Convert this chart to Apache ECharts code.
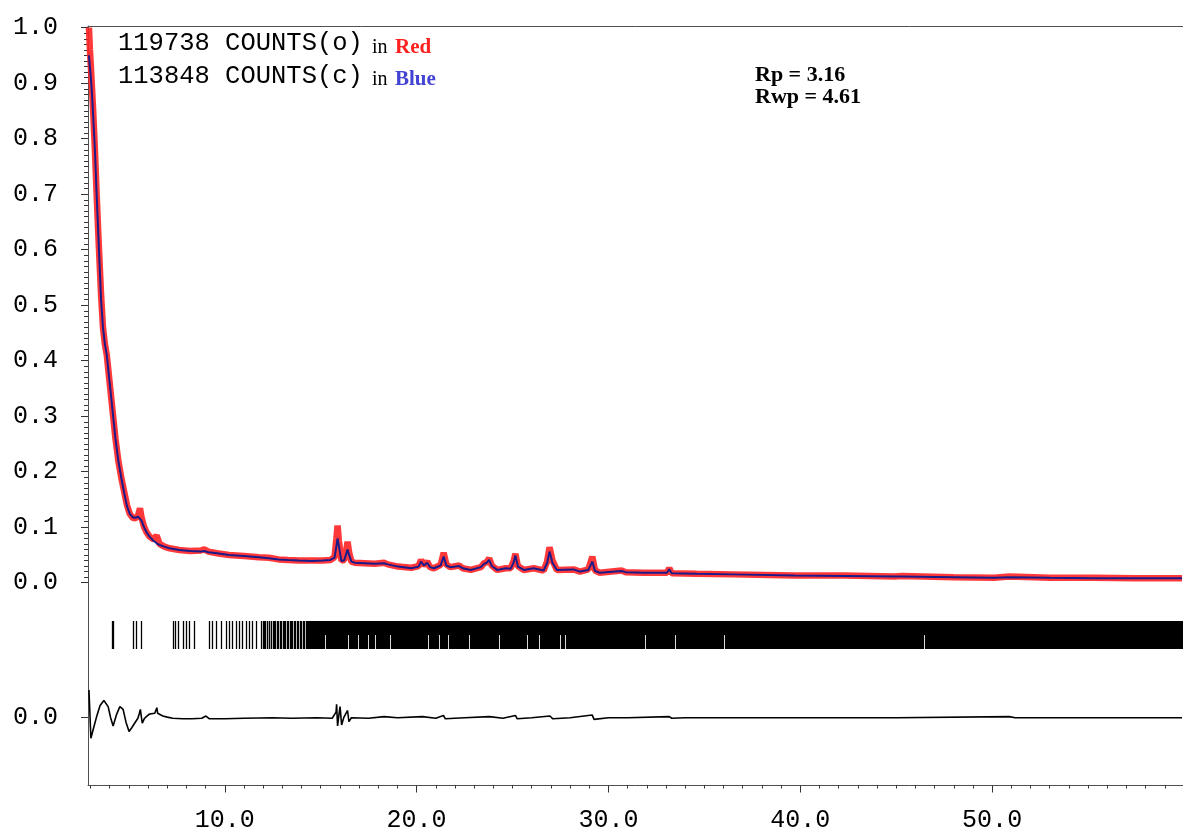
<!DOCTYPE html>
<html>
<head>
<meta charset="utf-8">
<title>Rietveld fit</title>
<script src="https://cdn.jsdelivr.net/npm/echarts@6/dist/echarts.min.js"></script>
<style>
  html, body { margin: 0; padding: 0; background: #fff; }
  #chart { width: 1183px; height: 834px; }
</style>
</head>
<body>
<div id="chart"></div>
<script>
// 2-theta positions of the profile points
const twoTheta = [
  2.92, 2.97, 3.02, 3.08, 3.14, 3.23, 3.32, 3.43, 3.55, 3.65, 3.75, 3.85, 4.00, 4.15, 4.30, 4.45,
  4.60, 4.75, 4.90, 5.05, 5.20, 5.35, 5.48, 5.58, 5.66, 5.78, 5.92, 6.08, 6.30, 6.45, 6.60, 6.85,
  7.12, 7.63, 8.20, 8.75, 8.93, 9.15, 9.60, 10.22, 11.00, 11.78, 12.30, 12.81, 13.30, 13.86, 14.52,
  15.10, 15.50, 15.72, 15.82, 15.88, 15.95, 16.08, 16.22, 16.33, 16.40, 16.48, 16.60, 16.78, 17.30,
  17.82, 18.30, 18.50, 19.03, 19.72, 20.10, 20.23, 20.38, 20.55, 20.70, 20.90, 21.25, 21.41, 21.55,
  21.75, 22.22, 22.40, 22.82, 23.35, 23.51, 23.65, 23.78, 23.92, 24.20, 24.64, 24.90, 25.05, 25.15,
  25.28, 25.59, 26.10, 26.62, 26.80, 26.93, 27.08, 27.31, 28.18, 28.52, 28.95, 29.16, 29.30, 29.55,
  30.68, 30.90, 31.80, 33.05, 33.17, 33.30, 34.60, 36.50, 39.70, 42.30, 44.90, 45.30, 48.00, 50.10,
  50.90, 53.00, 55.30, 57.50, 59.90
];

// observed counts (normalised)
const observed = [
  1.000, 0.960, 0.930, 0.890, 0.850, 0.780, 0.700, 0.610, 0.520, 0.460, 0.430, 0.410, 0.360, 0.310, 0.260, 0.220,
  0.190, 0.165, 0.140, 0.124, 0.117, 0.116, 0.121, 0.134, 0.118, 0.102, 0.091, 0.083, 0.078, 0.085, 0.070, 0.065,
  0.062, 0.059, 0.057, 0.058, 0.060, 0.056, 0.053, 0.050, 0.048, 0.046, 0.045, 0.042, 0.041, 0.040, 0.040,
  0.040, 0.041, 0.046, 0.080, 0.103, 0.075, 0.040, 0.041, 0.058, 0.074, 0.055, 0.038, 0.036, 0.035,
  0.034, 0.036, 0.033, 0.029, 0.027, 0.030, 0.041, 0.031, 0.038, 0.028, 0.026, 0.032, 0.054, 0.033,
  0.028, 0.031, 0.026, 0.023, 0.028, 0.035, 0.037, 0.044, 0.031, 0.023, 0.026, 0.026, 0.038, 0.052,
  0.030, 0.023, 0.026, 0.022, 0.038, 0.064, 0.040, 0.023, 0.024, 0.020, 0.024, 0.047, 0.022, 0.018,
  0.022, 0.019, 0.018, 0.018, 0.026, 0.017, 0.016, 0.015, 0.013, 0.013, 0.011, 0.012, 0.010, 0.009,
  0.011, 0.009, 0.009, 0.008, 0.008
];

// calculated counts (normalised)
const calculated = [
  0.950, 0.930, 0.910, 0.880, 0.840, 0.780, 0.700, 0.610, 0.510, 0.460, 0.430, 0.410, 0.360, 0.310, 0.260, 0.220,
  0.190, 0.163, 0.138, 0.124, 0.118, 0.117, 0.119, 0.122, 0.112, 0.101, 0.091, 0.083, 0.075, 0.071, 0.068, 0.065,
  0.062, 0.059, 0.057, 0.056, 0.057, 0.055, 0.053, 0.050, 0.048, 0.046, 0.044, 0.042, 0.041, 0.040, 0.039,
  0.040, 0.041, 0.045, 0.066, 0.080, 0.066, 0.039, 0.040, 0.052, 0.060, 0.050, 0.038, 0.036, 0.035,
  0.034, 0.035, 0.033, 0.029, 0.026, 0.029, 0.038, 0.031, 0.036, 0.028, 0.026, 0.031, 0.047, 0.031,
  0.028, 0.030, 0.026, 0.023, 0.028, 0.034, 0.036, 0.041, 0.030, 0.023, 0.026, 0.025, 0.036, 0.049,
  0.029, 0.023, 0.026, 0.022, 0.035, 0.056, 0.036, 0.023, 0.024, 0.020, 0.023, 0.038, 0.021, 0.018,
  0.021, 0.019, 0.018, 0.018, 0.024, 0.017, 0.016, 0.015, 0.013, 0.012, 0.011, 0.011, 0.010, 0.009,
  0.010, 0.009, 0.008, 0.008, 0.008
];

// difference curve (obs - calc): [2-theta, value]
const difference = [
  [2.92, 0.050], [3.02, -0.037], [3.15, -0.020], [3.32, 0.002], [3.50, 0.022], [3.70, 0.031], [3.92, 0.020],
  [4.05, 0.000], [4.18, -0.015], [4.35, 0.005], [4.53, 0.020], [4.70, 0.015], [4.85, -0.008], [5.01, -0.025],
  [5.15, -0.018], [5.30, -0.010], [5.47, -0.001], [5.55, 0.008], [5.60, 0.015], [5.65, 0.002], [5.70, -0.010],
  [5.80, -0.002], [5.91, 0.002], [6.05, 0.006], [6.17, 0.007], [6.35, 0.008], [6.43, 0.009], [6.46, 0.018],
  [6.50, 0.008], [6.77, 0.003], [7.00, 0.001], [7.29, -0.001], [7.80, -0.002], [8.30, -0.002], [8.80, -0.001],
  [9.02, 0.003], [9.20, -0.002], [10.0, -0.002], [11.0, -0.001], [12.5, 0.000], [13.5, -0.001], [14.8, 0.000],
  [15.6, -0.001], [15.80, 0.010], [15.83, 0.024], [15.88, -0.015], [15.95, 0.005], [16.01, 0.020], [16.09, -0.013],
  [16.20, 0.000], [16.40, 0.013], [16.47, -0.007], [16.60, 0.000], [17.5, -0.001], [18.3, 0.002], [19.0, 0.000],
  [20.3, 0.002], [21.0, -0.001], [21.4, 0.004], [21.5, -0.002], [22.5, 0.000], [23.8, 0.002], [24.5, -0.001],
  [25.15, 0.004], [25.25, -0.002], [26.0, 0.000], [26.95, 0.003], [27.1, -0.002], [28.0, 0.000], [29.15, 0.005],
  [29.25, -0.003], [30.0, 0.000], [31.0, 0.000], [33.17, 0.002], [33.3, -0.001], [34.0, 0.000], [40.0, 0.000],
  [45.0, 0.000], [50.9, 0.002], [51.0, -0.001], [51.2, 0.000], [59.9, 0.000]
];

// reflection positions (isolated tick marks)
const reflections = [
  4.10, 4.16, 5.22, 5.39, 5.65, 7.29, 7.41, 7.55, 7.80, 7.98, 8.15, 8.41, 9.19, 9.33, 9.53, 9.79,
  10.05, 10.22, 10.39, 10.57, 10.74, 10.91, 11.09, 11.26, 11.43, 11.61, 11.90, 11.98, 12.05, 12.12,
  12.20, 12.28, 12.33, 12.41, 12.50, 12.57, 12.63, 12.70, 12.78, 12.86, 12.93, 13.01, 13.09, 13.15,
  13.22, 13.30, 13.38, 13.46, 13.52, 13.60, 13.68, 13.75, 13.83, 13.90, 13.98, 14.06, 14.13, 14.21, 14.30
];
// ranges where reflections overlap into a continuous block
const reflectionBlocks = [[14.33, 59.95]];
// open spaces between overlapping reflections (lower part of the band)
const reflectionGaps = [
  15.23, 16.44, 16.92, 17.47, 17.82, 18.60, 20.58, 21.19, 21.62, 22.74, 24.29, 25.76, 26.36,
  27.48, 27.74, 31.88, 33.49, 36.02, 46.43
];

// axis ticks and labels
const xMajorTicks = [10, 20, 30, 40, 50];
const yMainTicks = [0, 0.1, 0.2, 0.3, 0.4, 0.5, 0.6, 0.7, 0.8, 0.9, 1.0];
const yDiffTicks = [0];

// the plot runs on past the right edge of the canvas
const X_MIN = 2.87, X_MAX = 59.95, RIGHT = -7;
const xMinorTicks = [];
for (let v = 3; v <= 59; v++) if (v % 10 !== 0) xMinorTicks.push(v);
const yDiffMinor = [];
for (let k = -5; k <= 6; k++) if (k !== 0) yDiffMinor.push(+(k * 0.01).toFixed(2));

const MONO = '"Liberation Mono", "DejaVu Sans Mono", monospace';
const SERIF = '"Liberation Serif", "DejaVu Serif", serif';
const AXIS_GREY = '#505050';

const chart = echarts.init(document.getElementById('chart'), null, { renderer: 'canvas' });

const hiddenX = (gridIndex) => ({
  type: 'value', gridIndex, min: X_MIN, max: X_MAX, show: false
});

const tickItem = (params, api) => {
  const x = Math.round(api.coord([api.value(0), 0])[0]) + 0.5;
  const yTop = api.coord([api.value(0), 1])[1];
  const yBot = api.coord([api.value(0), 0])[1];
  return {
    type: 'line',
    shape: { x1: x, y1: yTop, x2: x, y2: yBot },
    style: { stroke: '#000', lineWidth: 1.3 }
  };
};

const blockItem = (params, api) => {
  const p0 = api.coord([api.value(0), 1]);
  const p1 = api.coord([api.value(1), 0]);
  return {
    type: 'rect',
    shape: { x: Math.round(p0[0]), y: p0[1], width: p1[0] - p0[0], height: p1[1] - p0[1] },
    style: { fill: '#000' }
  };
};

const gapItem = (params, api) => {
  const x = Math.round(api.coord([api.value(0), 0])[0]) + 0.5;
  const yTop = api.coord([api.value(0), 0.5])[1];
  const yBot = api.coord([api.value(0), 0])[1];
  return {
    type: 'line',
    shape: { x1: x, y1: yTop, x2: x, y2: yBot },
    style: { stroke: '#d8d8d8', lineWidth: 1 }
  };
};

const option = {
  animation: false,
  backgroundColor: '#fff',
  grid: [
    // 0: observed / calculated profile
    { left: 88, right: RIGHT, top: 27.7, height: 555 },
    // 1: reflection markers
    { left: 88, right: RIGHT, top: 621, height: 28 },
    // 2: difference curve (same vertical scale as profile)
    { left: 88, right: RIGHT, top: 662.2, height: 111 },
    // 3: outer frame (left, top, bottom lines) with the 2-theta axis
    { left: 88, right: RIGHT, top: 26, bottom: 48.5 }
  ],
  xAxis: [
    hiddenX(0),
    hiddenX(1),
    hiddenX(2),
    {
      type: 'value', gridIndex: 3, min: X_MIN, max: X_MAX, position: 'bottom',
      axisLine: { show: true, lineStyle: { color: AXIS_GREY } },
      axisTick: { show: true, customValues: xMajorTicks, length: 7, lineStyle: { color: '#333' } },
      axisLabel: {
        show: true, customValues: xMajorTicks, margin: 22,
        formatter: (v) => v.toFixed(1),
        fontFamily: MONO, fontSize: 25, color: '#000'
      },
      splitLine: { show: false }
    },
    {
      type: 'value', gridIndex: 3, min: X_MIN, max: X_MAX, position: 'bottom',
      axisLine: { show: false },
      axisTick: { show: true, customValues: xMinorTicks, length: 3, lineStyle: { color: '#333' } },
      axisLabel: { show: false },
      splitLine: { show: false }
    },
    {
      type: 'value', gridIndex: 3, min: X_MIN, max: X_MAX, position: 'top',
      axisLine: { show: true, lineStyle: { color: AXIS_GREY } },
      axisTick: { show: false }, axisLabel: { show: false }, splitLine: { show: false }
    }
  ],
  yAxis: [
    {
      type: 'value', gridIndex: 0, min: 0, max: 1, interval: 0.1,
      axisLine: { show: false },
      axisTick: { show: true, length: 7, lineStyle: { color: '#333' } },
      minorTick: { show: true, splitNumber: 10, length: 4, lineStyle: { color: '#333' } },
      axisLabel: {
        margin: 30, fontFamily: MONO, fontSize: 25, color: '#000',
        formatter: (v) => {
          const t = yMainTicks.find((m) => Math.abs(m - v) < 1e-6);
          return t === undefined ? '' : t.toFixed(1);
        }
      },
      splitLine: { show: false }
    },
    { type: 'value', gridIndex: 1, min: 0, max: 1, show: false },
    {
      type: 'value', gridIndex: 2, min: -0.1, max: 0.1,
      axisLine: { show: false },
      axisTick: { show: true, customValues: yDiffTicks, length: 7, lineStyle: { color: '#333' } },
      axisLabel: {
        customValues: yDiffTicks, margin: 30, fontFamily: MONO, fontSize: 25, color: '#000',
        formatter: (v) => v.toFixed(1)
      },
      splitLine: { show: false }
    },
    {
      type: 'value', gridIndex: 2, min: -0.1, max: 0.1,
      axisLine: { show: false },
      axisTick: { show: true, customValues: yDiffMinor, length: 4, lineStyle: { color: '#333' } },
      axisLabel: { show: false },
      splitLine: { show: false }
    },
    {
      type: 'value', gridIndex: 3, min: 0, max: 1, position: 'left',
      axisLine: { show: true, lineStyle: { color: AXIS_GREY } },
      axisTick: { show: false }, axisLabel: { show: false }, splitLine: { show: false }
    }
  ],
  series: [
    {
      name: 'observed', type: 'line', xAxisIndex: 0, yAxisIndex: 0,
      data: twoTheta.map((x, i) => [x, observed[i]]),
      showSymbol: false, clip: false,
      lineStyle: { color: '#ff2424', width: 6.5, opacity: 0.9 },
      itemStyle: { color: '#ff2424' }
    },
    {
      name: 'calculated', type: 'line', xAxisIndex: 0, yAxisIndex: 0,
      data: twoTheta.map((x, i) => [x, calculated[i]]),
      showSymbol: false, clip: false,
      lineStyle: { color: '#1a1a8a', width: 2 },
      itemStyle: { color: '#1a1a8a' }
    },
    {
      name: 'reflection blocks', type: 'custom', xAxisIndex: 1, yAxisIndex: 1,
      data: reflectionBlocks, renderItem: blockItem, clip: true
    },
    {
      name: 'reflections', type: 'custom', xAxisIndex: 1, yAxisIndex: 1,
      data: reflections.map((v) => [v]), renderItem: tickItem
    },
    {
      name: 'gaps', type: 'custom', xAxisIndex: 1, yAxisIndex: 1,
      data: reflectionGaps.map((v) => [v]), renderItem: gapItem
    },
    {
      name: 'difference', type: 'line', xAxisIndex: 2, yAxisIndex: 2,
      data: difference, showSymbol: false, clip: false,
      lineStyle: { color: '#000', width: 1.6 },
      itemStyle: { color: '#000' }
    }
  ],
  graphic: [
    { type: 'text', x: 118, y: 43, style: { text: '119738 COUNTS(o)', font: '25.5px ' + MONO, fill: '#000', verticalAlign: 'middle' } },
    { type: 'text', x: 372, y: 47.5, style: { text: 'in', font: '20px ' + SERIF, fill: '#000', verticalAlign: 'middle' } },
    { type: 'text', x: 395, y: 47.5, style: { text: 'Red', font: 'bold 21px ' + SERIF, fill: '#ff2020', verticalAlign: 'middle' } },
    { type: 'text', x: 118, y: 76, style: { text: '113848 COUNTS(c)', font: '25.5px ' + MONO, fill: '#000', verticalAlign: 'middle' } },
    { type: 'text', x: 372, y: 79.5, style: { text: 'in', font: '20px ' + SERIF, fill: '#000', verticalAlign: 'middle' } },
    { type: 'text', x: 395, y: 79.5, style: { text: 'Blue', font: 'bold 21px ' + SERIF, fill: '#4444d4', verticalAlign: 'middle' } },
    { type: 'text', x: 755, y: 75, style: { text: 'Rp = 3.16', font: 'bold 22px ' + SERIF, fill: '#000', verticalAlign: 'middle' } },
    { type: 'text', x: 755, y: 97.5, style: { text: 'Rwp = 4.61', font: 'bold 22px ' + SERIF, fill: '#000', verticalAlign: 'middle' } }
  ]
};

chart.setOption(option);
</script>
</body>
</html>
